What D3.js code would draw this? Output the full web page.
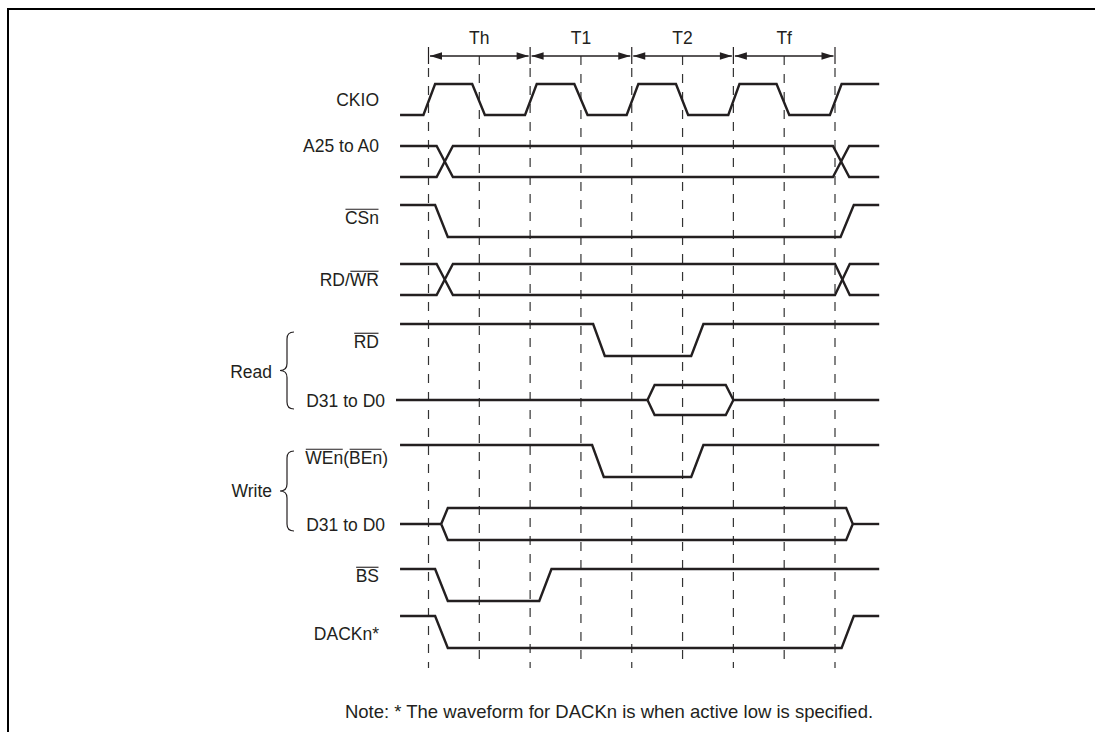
<!DOCTYPE html>
<html><head><meta charset="utf-8">
<script src="https://cdn.jsdelivr.net/npm/d3@7"></script>
<style>
html,body{margin:0;padding:0;background:#fff;}
svg text{font-family:"Liberation Sans",Arial,Helvetica,sans-serif;fill:#231f20;}
</style></head>
<body>
<svg id="c" width="1095" height="732"></svg>
<script>
// ---- data (time in half-cycles of CKIO; level 1 = high, 0 = low) ----
const periodLabels = ["Th", "T1", "T2", "Tf"];
const periodMids = [1, 3, 5, 7];
const boundaries = [0, 2, 4, 6, 8];
const midLines = [1, 3, 5, 7];

const ckio = [[-0.56,0],[-0.10,0],[0.13,1],[0.86,1],[1.11,0],[1.90,0],[2.13,1],[2.87,1],[3.13,0],[3.90,0],[4.13,1],[4.87,1],[5.11,0],[5.90,0],[6.12,1],[6.85,1],[7.10,0],[7.90,0],[8.13,1],[8.87,1]];
const a25Cross = [0.16, 0.48, 7.96, 8.28];
const csn = [[-0.56,1],[0.13,1],[0.38,0],[8.11,0],[8.37,1],[8.87,1]];
const rdwrCross = [0.16, 0.48, 8.00, 8.29];
const rd = [[-0.56,1],[3.24,1],[3.47,0],[5.17,0],[5.41,1],[8.87,1]];
const d31Read = [4.31, 4.45, 5.85, 6.00];
const wen = [[-0.56,1],[3.22,1],[3.45,0],[5.17,0],[5.41,1],[8.87,1]];
const d31Write = [0.25, 0.38, 8.22, 8.35];
const bs = [[-0.56,1],[0.13,1],[0.38,0],[2.18,0],[2.42,1],[8.87,1]];
const dack = [[-0.56,1],[0.13,1],[0.38,0],[8.13,0],[8.37,1],[8.87,1]];

const noteText = "Note: * The waveform for DACKn is when active low is specified.";

// ---- layout ----
const svg = d3.select("#c");
const x = d3.scaleLinear().domain([0, 8]).range([428.5, 835]);
const tStart = -0.56, tEnd = 8.87;
const ink = "#231f20";
const lw = 2.4;
const labelX = 379;
const fs = 17.5;

// frame
svg.append("path").attr("d", "M8,740 L8,9 L1100,9").attr("fill","none").attr("stroke","#000").attr("stroke-width",2);

// dashed guide lines
const gTop = 68, gBottom = 668;
boundaries.forEach(b => {
  svg.append("line").attr("x1", x(b)).attr("x2", x(b)).attr("y1", 47).attr("y2", 64)
    .attr("stroke", ink).attr("stroke-width", 1.2);
  svg.append("line").attr("x1", x(b)).attr("x2", x(b)).attr("y1", gTop).attr("y2", gBottom)
    .attr("stroke", "#333").attr("stroke-width", 1.2).attr("stroke-dasharray", "9,9");
});
midLines.forEach(m => {
  svg.append("line").attr("x1", x(m)).attr("x2", x(m)).attr("y1", 56).attr("y2", gBottom)
    .attr("stroke", "#333").attr("stroke-width", 1.2).attr("stroke-dasharray", "9,9");
});

// period arrows
const arrowY = 56;
function arrowHead(xTip, dir) {
  const L = 12, W = 3.8;
  svg.append("path").attr("d", `M${xTip},${arrowY} L${xTip + dir*L},${arrowY - W} L${xTip + dir*L},${arrowY + W} Z`).attr("fill", ink);
}
periodMids.forEach((m, i) => {
  const a = x(m - 1) + 1.5, b = x(m + 1) - 1.5;
  svg.append("line").attr("x1", a).attr("x2", b).attr("y1", arrowY).attr("y2", arrowY).attr("stroke", ink).attr("stroke-width", 1.3);
  arrowHead(a, 1); arrowHead(b, -1);
  svg.append("text").attr("x", x(m)).attr("y", 38).attr("text-anchor", "middle").attr("dominant-baseline","central")
    .attr("font-size", fs).text(periodLabels[i]);
});

// helpers
function digital(points, yHigh, yLow) {
  const yy = d3.scaleLinear().domain([0, 1]).range([yLow, yHigh]);
  svg.append("path").attr("d", d3.line().x(d => x(d[0])).y(d => yy(d[1]))(points))
    .attr("fill", "none").attr("stroke", ink).attr("stroke-width", lw).attr("stroke-linejoin", "miter");
}
function crossBus(c, yHigh, yLow) {
  const l = d3.line().x(d => x(d[0])).y(d => d[1]);
  const p1 = [[tStart,yHigh],[c[0],yHigh],[c[1],yLow],[c[2],yLow],[c[3],yHigh],[tEnd,yHigh]];
  const p2 = [[tStart,yLow],[c[0],yLow],[c[1],yHigh],[c[2],yHigh],[c[3],yLow],[tEnd,yLow]];
  [p1, p2].forEach(p => svg.append("path").attr("d", l(p)).attr("fill","none").attr("stroke",ink).attr("stroke-width",lw));
}
function hexBus(c, yMid, half, xStartPx) {
  const l = d3.line().x(d => d[0]).y(d => d[1]);
  svg.append("path").attr("d", l([[xStartPx, yMid],[x(c[0]), yMid]])).attr("fill","none").attr("stroke",ink).attr("stroke-width",lw);
  svg.append("path").attr("d", l([[x(c[0]),yMid],[x(c[1]),yMid-half],[x(c[2]),yMid-half],[x(c[3]),yMid],[x(c[2]),yMid+half],[x(c[1]),yMid+half],[x(c[0]),yMid]]))
    .attr("fill","none").attr("stroke",ink).attr("stroke-width",lw).attr("stroke-linejoin","miter");
  svg.append("path").attr("d", l([[x(c[3]), yMid],[x(tEnd), yMid]])).attr("fill","none").attr("stroke",ink).attr("stroke-width",lw);
}
function label(parts, xr, yc) {
  const t = svg.append("text").attr("x", xr).attr("y", yc).attr("text-anchor", "end")
    .attr("dominant-baseline", "central").attr("font-size", fs);
  parts.forEach(p => t.append("tspan").text(p[0]));
  const node = t.node();
  const bb = node.getBBox();
  let idx = 0;
  parts.forEach(p => {
    if (p[1]) {
      const s = node.getSubStringLength(0, idx);
      const w = node.getSubStringLength(idx, p[0].length);
      svg.append("line").attr("x1", bb.x + s + 0.5).attr("x2", bb.x + s + w - 0.5)
        .attr("y1", yc - fs*0.5).attr("y2", yc - fs*0.5).attr("stroke", ink).attr("stroke-width", 1.1);
    }
    idx += p[0].length;
  });
}
function brace(xTip, yTop, yBot) {
  const xr = xTip + 14, xm = xTip + 7, ym = (yTop + yBot) / 2, r = 7;
  const d = `M${xr},${yTop} Q${xm},${yTop} ${xm},${yTop + r} L${xm},${ym - r} Q${xm},${ym} ${xTip},${ym} Q${xm},${ym} ${xm},${ym + r} L${xm},${yBot - r} Q${xm},${yBot} ${xr},${yBot}`;
  svg.append("path").attr("d", d).attr("fill","none").attr("stroke", ink).attr("stroke-width", 1.2);
}

// signals
digital(ckio, 84, 115);           label([["CKIO",false]], labelX, 100);
crossBus(a25Cross, 146, 177);     label([["A25 to A0",false]], labelX, 146);
digital(csn, 205, 237);           label([["CSn",true]], labelX, 218);
crossBus(rdwrCross, 264, 295);    label([["RD/",false],["WR",true]], labelX, 280);
digital(rd, 324, 356);            label([["RD",true]], labelX, 342);
hexBus(d31Read, 400, 15, 396);    label([["D31 to D0",false]], 385, 401);
digital(wen, 445, 477);           label([["WEn",true],["(",false],["BEn",true],[")",false]], 388, 458);
hexBus(d31Write, 524, 16, 400);   label([["D31 to D0",false]], 385, 525);
digital(bs, 569, 601);            label([["BS",true]], labelX, 576);
digital(dack, 616, 648);          label([["DACKn*",false]], labelX, 634);

// group braces
label([["Read",false]], 272, 372);  brace(280, 332, 409);
label([["Write",false]], 272, 491); brace(280, 451, 531);

// note
svg.append("text").attr("x", 609).attr("y", 711).attr("text-anchor","middle").attr("dominant-baseline","central")
  .attr("font-size", 18.5).text(noteText);
</script>
</body></html>
